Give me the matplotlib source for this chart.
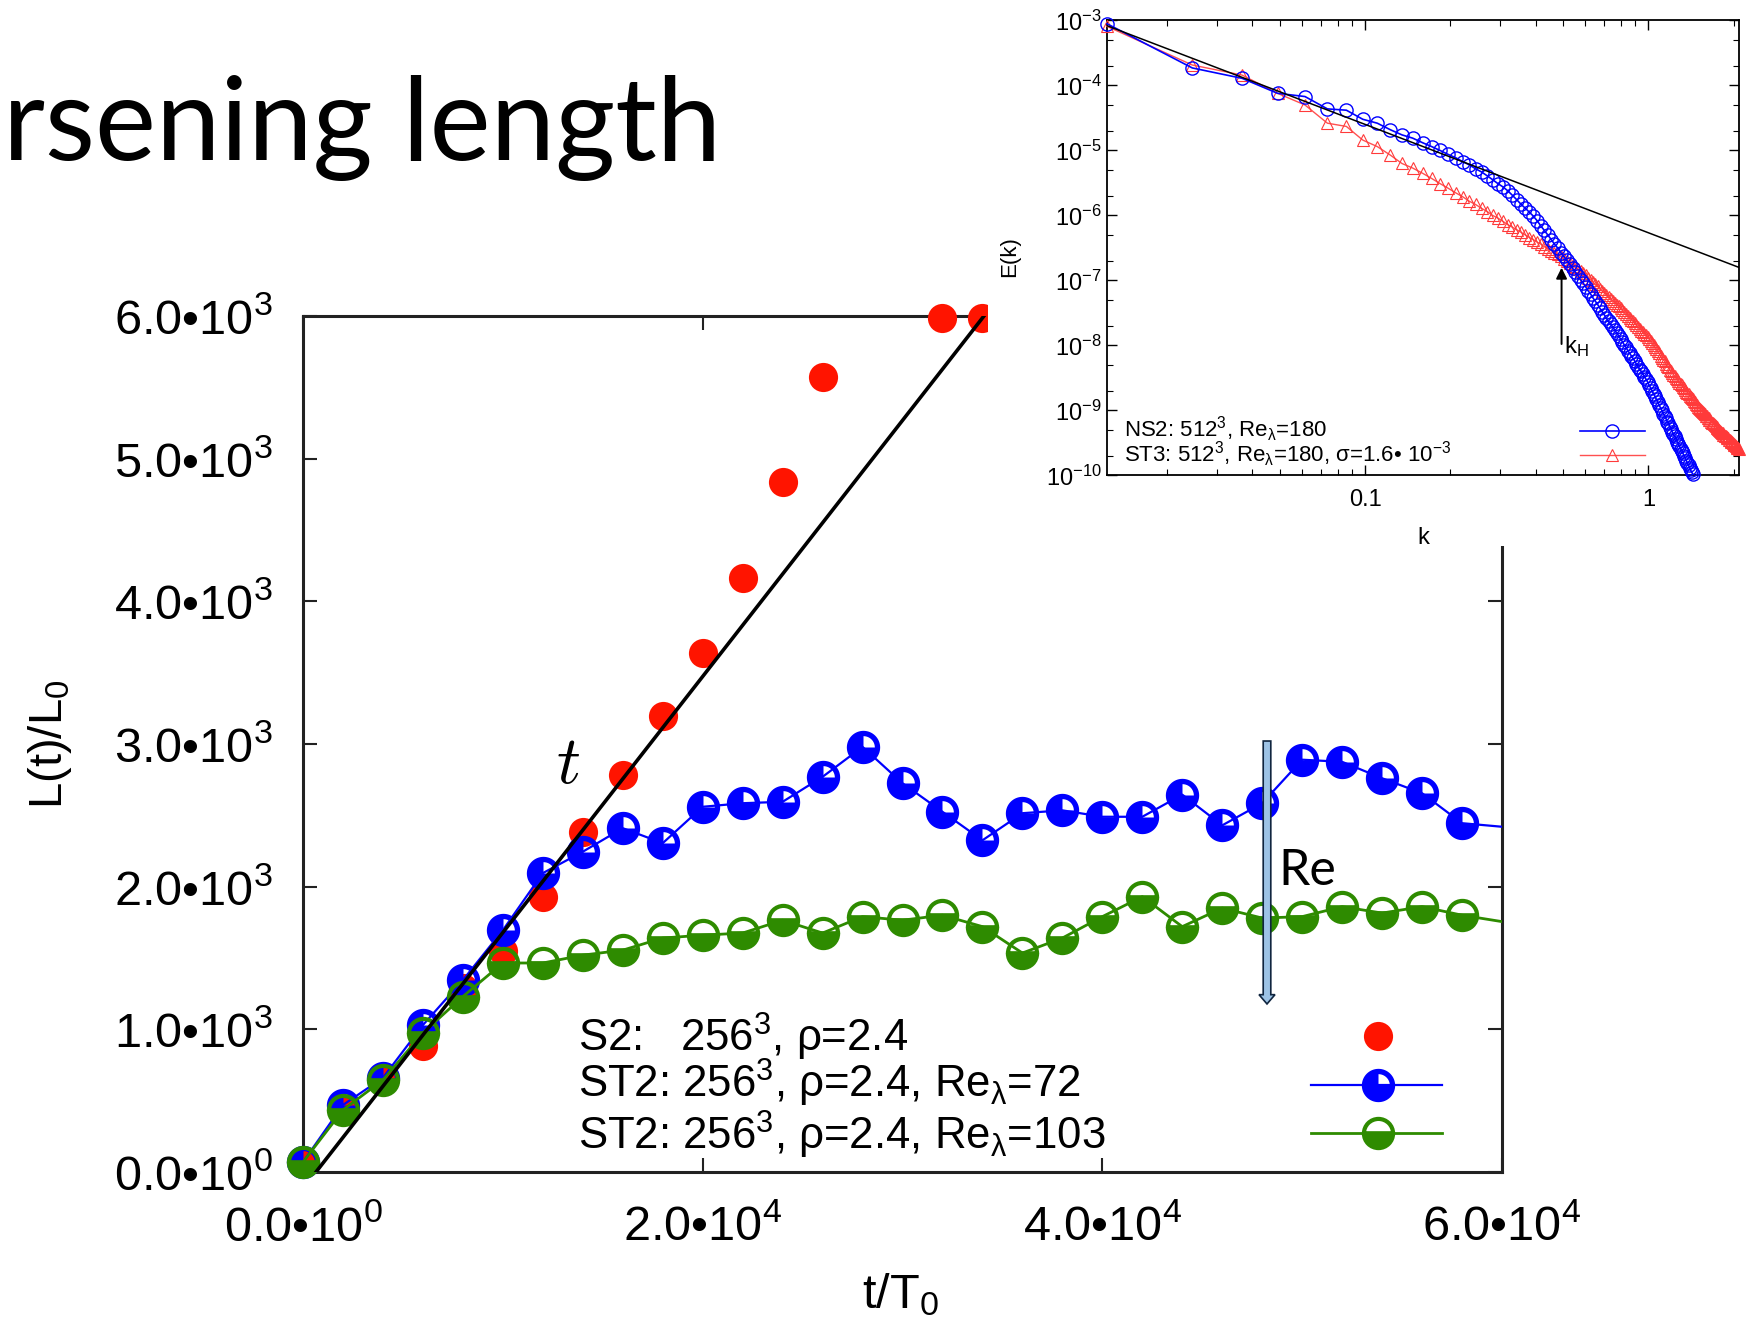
import numpy as np
import matplotlib
matplotlib.use("Agg")
import matplotlib.pyplot as plt
from matplotlib.path import Path
from matplotlib.patches import Rectangle, FancyArrow
from matplotlib.ticker import LogLocator, LogFormatterMathtext, NullFormatter, FixedLocator

plt.rcParams['font.family'] = ['Liberation Sans', 'DejaVu Sans']
plt.rcParams['mathtext.fontset'] = 'custom'
plt.rcParams['mathtext.rm'] = 'Liberation Sans'
plt.rcParams['mathtext.it'] = 'Liberation Sans:italic'
plt.rcParams['mathtext.bf'] = 'Liberation Sans:bold'
plt.rcParams['mathtext.sf'] = 'Liberation Sans'

# ---- main panel: coarsening length L(t)/L0 vs t/T0 ----
t_s2 = [0, 2000, 4000, 6000, 8000, 10000, 12000, 14000, 16000, 18000,
        20000, 22000, 24000, 26000, 32000, 34000]
L_s2 = [60, 440, 660, 880, 1290, 1550, 1930, 2380, 2780, 3195,
        3640, 4165, 4835, 5570, 5985, 5985]

t_st2 = [0, 2000, 4000, 6000, 8000, 10000, 12000, 14000, 16000, 18000,
         20000, 22000, 24000, 26000, 28000, 30000, 32000, 34000, 36000, 38000,
         40000, 42000, 44000, 46000, 48000, 50000, 52000, 54000, 56000, 58000]
L_re72 = [70, 470, 660, 1030, 1345, 1695, 2095, 2245, 2410, 2305,
          2560, 2585, 2595, 2770, 2980, 2725, 2525, 2325, 2515, 2535,
          2490, 2490, 2645, 2430, 2585, 2890, 2875, 2760, 2655, 2445]
L_re103 = [70, 435, 645, 975, 1230, 1465, 1465, 1520, 1555, 1640,
           1660, 1675, 1765, 1675, 1790, 1765, 1800, 1720, 1535, 1640,
           1790, 1930, 1720, 1850, 1780, 1790, 1860, 1815, 1860, 1800]
# next sample, beyond the plotted range (only its connecting line shows)
t_next = 62000
L_re72_next = 2395
L_re103_next = 1710

# linear growth guide L ~ t
fit_slope = 0.1795
fit_t = [650, 34080]

y_ticks = [0, 1000, 2000, 3000, 4000, 5000, 6000]
y_ticklabels = ['0.0•10$^{0}$', '1.0•10$^{3}$', '2.0•10$^{3}$', '3.0•10$^{3}$',
                '4.0•10$^{3}$', '5.0•10$^{3}$', '6.0•10$^{3}$']
x_ticks = [0, 20000, 40000, 60000]
x_ticklabels = ['0.0•10$^{0}$', '2.0•10$^{4}$', '4.0•10$^{4}$', '6.0•10$^{4}$']

legend_main = ['S2:   256$^{3}$, ρ=2.4',
               'ST2: 256$^{3}$, ρ=2.4, Re$_{\\mathrm{λ}}$=72',
               'ST2: 256$^{3}$, ρ=2.4, Re$_{\\mathrm{λ}}$=103']

# ---- inset: energy spectra E(k) ----
dk = 2 * np.pi / 512
logE_ns2 = [-3.05, -3.73, -3.89, -4.12, -4.17, -4.36, -4.38, -4.52, -4.58, -4.68,
            -4.76, -4.81, -4.88, -4.94, -5.00, -5.06, -5.11, -5.17, -5.22, -5.28,
            -5.33, -5.39, -5.45, -5.51, -5.56, -5.62, -5.69, -5.76, -5.83, -5.89,
            -5.95, -6.01, -6.08, -6.16, -6.23, -6.30, -6.37, -6.44, -6.50, -6.57,
            -6.63, -6.69, -6.75, -6.81, -6.87, -6.93, -6.99, -7.04, -7.10, -7.16,
            -7.21, -7.27, -7.32, -7.37, -7.43, -7.48, -7.53, -7.58, -7.63, -7.67,
            -7.72, -7.76, -7.81, -7.85, -7.90, -7.94, -7.99, -8.03, -8.08, -8.12,
            -8.16, -8.20, -8.24, -8.29, -8.33, -8.37, -8.40, -8.44, -8.48, -8.52,
            -8.56, -8.61, -8.65, -8.70, -8.74, -8.78, -8.83, -8.87, -8.92, -8.96,
            -9.00, -9.05, -9.08, -9.12, -9.17, -9.20, -9.25, -9.28, -9.33, -9.36,
            -9.40, -9.44, -9.48, -9.51, -9.55, -9.59, -9.62, -9.66, -9.70, -9.73,
            -9.77, -9.81, -9.84, -9.88, -9.92, -9.95, -9.98]
logE_st3 = [-3.09, -3.685, -3.84, -4.12, -4.30, -4.58, -4.63, -4.84, -4.94, -5.07,
            -5.20, -5.27, -5.35, -5.43, -5.51, -5.58, -5.65, -5.71, -5.78, -5.83,
            -5.89, -5.94, -6.00, -6.04, -6.09, -6.14, -6.18, -6.22, -6.26, -6.30,
            -6.34, -6.37, -6.41, -6.44, -6.48, -6.51, -6.54, -6.57, -6.60, -6.63,
            -6.67, -6.70, -6.73, -6.77, -6.80, -6.83, -6.86, -6.89, -6.92, -6.96,
            -6.99, -7.03, -7.06, -7.09, -7.13, -7.16, -7.19, -7.22, -7.26, -7.28,
            -7.31, -7.34, -7.37, -7.40, -7.43, -7.46, -7.49, -7.52, -7.55, -7.58,
            -7.61, -7.63, -7.66, -7.69, -7.72, -7.74, -7.77, -7.79, -7.82, -7.84,
            -7.87, -7.90, -7.93, -7.96, -8.00, -8.03, -8.06, -8.09, -8.12, -8.16,
            -8.19, -8.22, -8.24, -8.28, -8.31, -8.33, -8.37, -8.39, -8.42, -8.45,
            -8.47, -8.50, -8.52, -8.55, -8.57, -8.59, -8.61, -8.64, -8.66, -8.68,
            -8.71, -8.73, -8.75, -8.77, -8.79, -8.81, -8.83, -8.86, -8.87, -8.90,
            -8.92, -8.94, -8.96, -8.97, -9.00, -9.01, -9.03, -9.04, -9.06, -9.08,
            -9.09, -9.11, -9.12, -9.14, -9.15, -9.17, -9.19, -9.20, -9.21, -9.23,
            -9.24, -9.26, -9.27, -9.29, -9.30, -9.32, -9.33, -9.34, -9.35, -9.37,
            -9.38, -9.39, -9.40, -9.41, -9.42, -9.43, -9.45, -9.46, -9.47, -9.48,
            -9.49, -9.50, -9.51, -9.53, -9.53, -9.55, -9.56, -9.57, -9.58, -9.59]
k53_amp = 5.43e-7          # K41 guide E = A k^(-5/3)
k53_range = [dk, 2.09]
kH = 0.494
kH_arrow_E = [10 ** -8.02, 10 ** -6.76]

legend_inset = ['NS2: 512$^{3}$, Re$_{\\mathrm{λ}}$=180',
                'ST3: 512$^{3}$, Re$_{\\mathrm{λ}}$=180, σ=1.6• 10$^{-3}$']

RED = '#ff1400'
BLUE = '#0000ff'
GREEN = '#2e8b00'

# marker: filled circle with the upper-right quarter cut out
th = np.linspace(0, 2 * np.pi, 65)
outer = np.column_stack([np.cos(th), np.sin(th)])
a = np.linspace(np.pi / 2, 0, 17)
wedge = np.vstack([[0, 0], np.column_stack([0.68 * np.cos(a), 0.68 * np.sin(a)]), [0, 0]])
codes = ([Path.MOVETO] + [Path.LINETO] * (len(outer) - 2) + [Path.CLOSEPOLY]
         + [Path.MOVETO] + [Path.LINETO] * (len(wedge) - 2) + [Path.CLOSEPOLY])
quarter_marker = Path(np.vstack([outer, wedge]), codes)

fig = plt.figure(figsize=(17.53, 13.22), dpi=100)

# ---------------- main axes ----------------
ax = fig.add_axes([0.17285, 0.11346, 0.68397, 0.64750])
ax.set_xlim(0, 60000)
ax.set_ylim(0, 6000)

ax.plot(t_s2, L_s2, ls='none', marker='o', ms=21, mfc=RED, mec=RED, mew=0,
        clip_on=False, zorder=3)

ax.plot(t_st2 + [t_next], L_re72 + [L_re72_next], color=BLUE, lw=1.6, zorder=4)
ax.plot(t_st2, L_re72, ls='none', marker=quarter_marker, ms=24, mfc=BLUE, mec=BLUE,
        mew=0, clip_on=False, zorder=4)

ax.plot(t_st2 + [t_next], L_re103 + [L_re103_next], color=GREEN, lw=2, zorder=5)
ax.plot(t_st2, L_re103, ls='none', marker='o', ms=21, fillstyle='bottom', mfc=GREEN,
        mfcalt='none', mec=GREEN, mew=3, clip_on=False, zorder=5)

fit_L = [fit_slope * (t - fit_t[0]) for t in fit_t]
ax.plot(fit_t, fit_L, color='black', lw=2.6, zorder=6)

ax.set_xticks(x_ticks)
ax.set_xticklabels(x_ticklabels)
ax.set_yticks(y_ticks)
ax.set_yticklabels(y_ticklabels)
ax.tick_params(direction='in', length=10, width=1.5, top=True, right=True,
               labelsize=35, color='#222222')
ax.tick_params(axis='y', pad=22)
ax.tick_params(axis='x', pad=24)
for sp in ax.spines.values():
    sp.set_linewidth(2.2)
    sp.set_color('#222222')

ax.text(13260, 2846, '$t$', math_fontfamily='cm', fontsize=48,
        ha='center', va='center', zorder=7)

# key
for txt, yb in zip(legend_main, [0.1405, 0.0864, 0.0265]):
    ax.text(0.2294, yb, txt, transform=ax.transAxes, fontsize=31.5, va='baseline', zorder=7)
ax.plot([0.8966], [0.1589], transform=ax.transAxes, ls='none', marker='o', ms=21,
        mfc=RED, mew=0, zorder=7)
ax.plot([0.8407, 0.950], [0.1016, 0.1016], transform=ax.transAxes, color=BLUE, lw=1.6, zorder=7)
ax.plot([0.8966], [0.1016], transform=ax.transAxes, ls='none', marker=quarter_marker,
        ms=24, mfc=BLUE, mew=0, zorder=7)
ax.plot([0.8407, 0.950], [0.0456, 0.0456], transform=ax.transAxes, color=GREEN, lw=2, zorder=7)
ax.plot([0.8966], [0.0456], transform=ax.transAxes, ls='none', marker='o', ms=21,
        fillstyle='bottom', mfc=GREEN, mfcalt='none', mec=GREEN, mew=3, zorder=7)

# Re arrow
ax.add_patch(FancyArrow(48240, 3021, 0, 1178 - 3021, width=380, head_width=800,
                        head_length=65, length_includes_head=True,
                        fc='#9dc3e6', ec='#10253f', lw=1.2, zorder=8))
ax.text(48790, 2012, 'Re', family='Lato', fontsize=36, va='baseline', zorder=8)

fig.text(50 / 1753, 1 - 744 / 1322, 'L(t)/L$_{0}$', rotation=90, fontsize=34,
         ha='center', va='center')
fig.text(900 / 1753, 1 - 1295 / 1322, 't/T$_{0}$', fontsize=35, ha='center', va='center')

# white backing of the pasted inset
fig.patches.append(Rectangle((988 / 1753, 1 - 546 / 1322), 1, 1, transform=fig.transFigure,
                             facecolor='white', edgecolor='none', zorder=1))

# ---------------- inset ----------------
ax2 = fig.add_axes([0.63149, 0.64032, 0.36052, 0.34418], zorder=2)
ax2.set_xscale('log')
ax2.set_yscale('log')
ax2.set_xlim(dk, 2.09)
ax2.set_ylim(1e-10, 1e-3)

k_ns2 = dk * np.arange(1, len(logE_ns2) + 1)
k_st3 = dk * np.arange(1, len(logE_st3) + 1)
E_ns2 = 10.0 ** np.array(logE_ns2)
E_st3 = 10.0 ** np.array(logE_st3)

ax2.plot(k_st3, E_st3, color='#ff5050', lw=1.0, marker='^', ms=9, mfc='none',
         mec='#ff3a3a', mew=0.8, clip_on=False, zorder=3)
ax2.plot(k_ns2, E_ns2, color=BLUE, lw=1.2, marker='o', ms=9.5, mfc='none',
         mec=BLUE, mew=1.0, clip_on=False, zorder=4)
kk = np.array(k53_range)
ax2.plot(kk, k53_amp * kk ** (-5 / 3), color='black', lw=1.1, zorder=5)

ax2.annotate('', xy=(kH, kH_arrow_E[1]), xytext=(kH, kH_arrow_E[0]),
             arrowprops=dict(arrowstyle='-|>', color='black', lw=1.4, mutation_scale=16),
             zorder=6)
ax2.text(0.502, 10 ** -8.115, 'k$_{\\mathrm{H}}$', fontsize=17, va='baseline', zorder=6)

ax2.yaxis.set_major_locator(LogLocator(base=10, numticks=20))
ax2.yaxis.set_major_formatter(LogFormatterMathtext())
ax2.yaxis.set_minor_locator(LogLocator(base=10, subs=(2, 5), numticks=20))
ax2.yaxis.set_minor_formatter(NullFormatter())
ax2.xaxis.set_major_locator(FixedLocator([0.1, 1]))
ax2.set_xticklabels(['0.1', '1'])
ax2.xaxis.set_minor_locator(LogLocator(base=10, subs=range(2, 10), numticks=20))
ax2.xaxis.set_minor_formatter(NullFormatter())
ax2.tick_params(which='both', direction='in', top=True, right=True, labelsize=17)
ax2.tick_params(which='major', length=7, width=1.0)
ax2.tick_params(which='minor', length=4, width=0.8)
ax2.tick_params(axis='x', pad=10)
ax2.tick_params(axis='y', pad=4)
for sp in ax2.spines.values():
    sp.set_linewidth(1.3)

for txt, yb in zip(legend_inset, [0.0850, 0.0290]):
    ax2.text(0.027, yb, txt, transform=ax2.transAxes, fontsize=16, va='baseline', zorder=7)
ax2.plot([0.748, 0.851], [0.0985, 0.0985], transform=ax2.transAxes, color=BLUE, lw=1.2, zorder=7)
ax2.plot([0.7995], [0.0985], transform=ax2.transAxes, ls='none', marker='o', ms=9.5,
         mfc='none', mec=BLUE, mew=1.0, zorder=7)
ax2.plot([0.748, 0.851], [0.0444, 0.0444], transform=ax2.transAxes, color='#ff5050', lw=1.0, zorder=7)
ax2.plot([0.7995], [0.0444], transform=ax2.transAxes, ls='none', marker='^', ms=9,
         mfc='none', mec='#ff3a3a', mew=0.8, zorder=7)

fig.text(1010 / 1753, 1 - 257 / 1322, 'E(k)', rotation=90, fontsize=16, ha='center', va='center')
fig.text(1423 / 1753, 1 - 538 / 1322, 'k', fontsize=17, ha='center', va='center')

# slide title, cut off at the left border
title = 'rsening length'
fig.canvas.draw()
renderer = fig.canvas.get_renderer()
probe = fig.text(0, 0, title, family='Lato', fontsize=100)
w = probe.get_window_extent(renderer).width
probe.remove()
fig.text(721 / 1753, 1 - 160 / 1322, title, family='Lato', fontsize=100 * 718 / w,
         ha='right', va='baseline')

fig.savefig('out.png', dpi=100)
